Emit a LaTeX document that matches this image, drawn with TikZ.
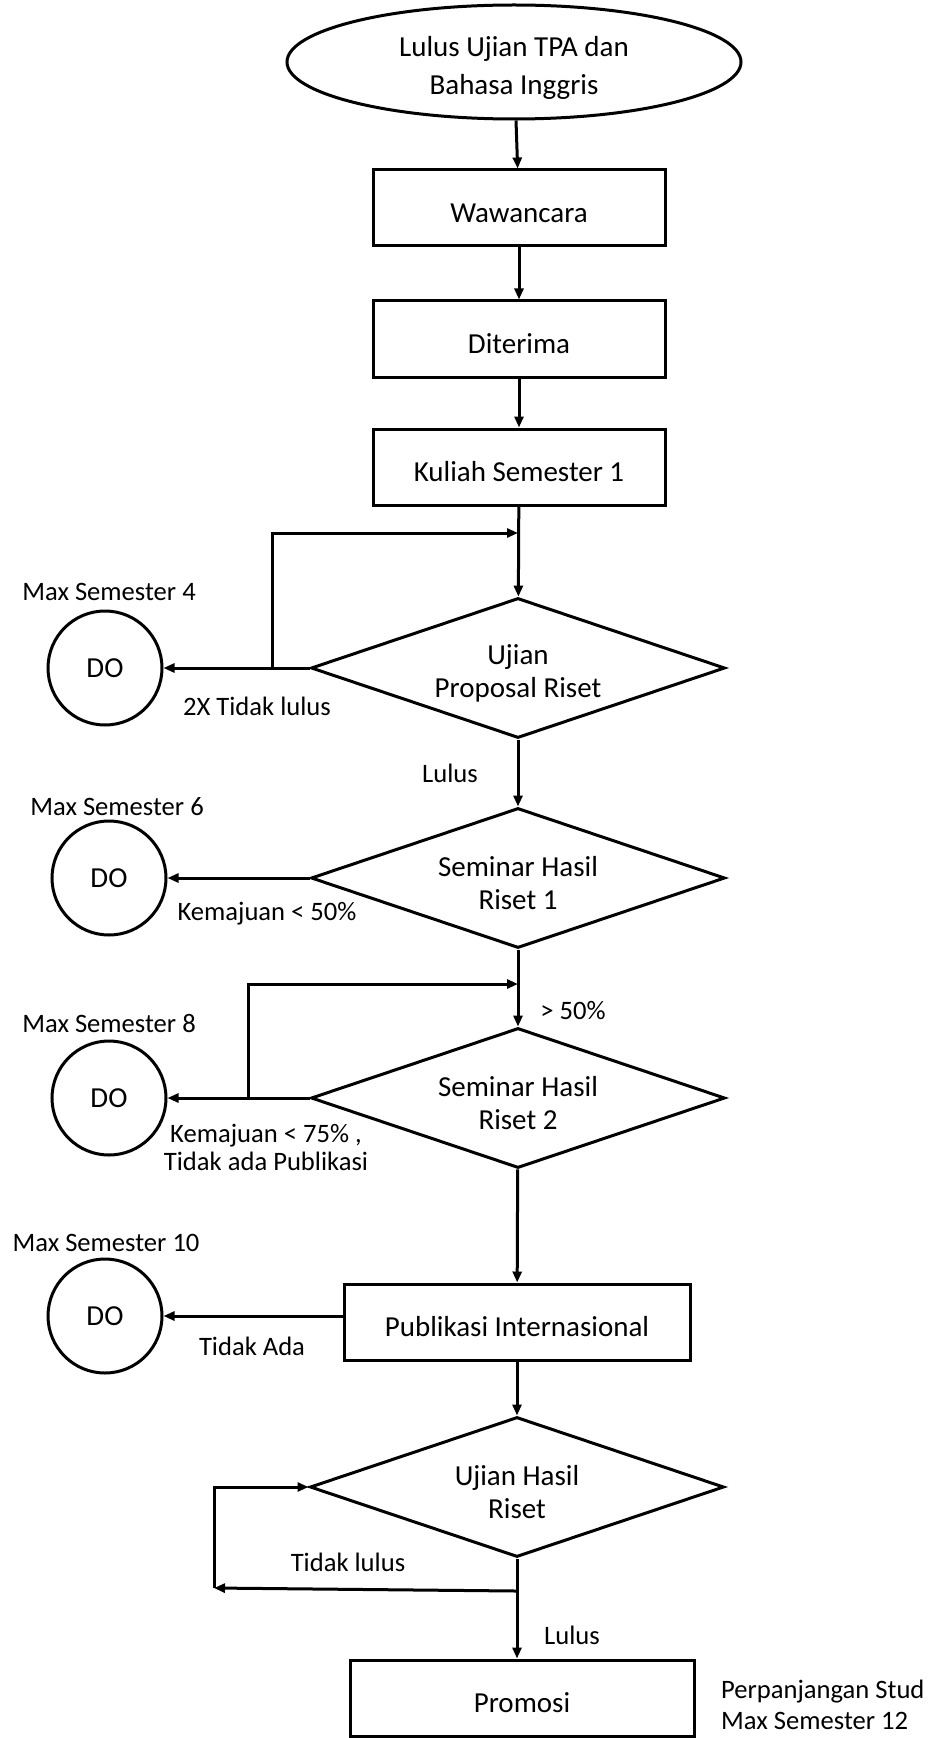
\documentclass[tikz,border=0pt]{standalone}
\usepackage{fontspec}
\setmainfont{Carlito}
\usetikzlibrary{shapes.geometric,arrows.meta}
\begin{document}
\begin{tikzpicture}[x=0.5pt,y=-0.5pt,line width=1.5pt,
    font=\fontsize{14.5}{16.5}\selectfont,
    >={Triangle[length=5.5pt,width=4.5pt]},
    box/.style={draw,rectangle,minimum width=146pt,minimum height=38pt,inner sep=0pt,
      execute at begin node=\rule{0pt}{14.5pt}},
    cond/.style={draw,diamond,aspect=3,minimum width=207pt,minimum height=70pt,inner sep=0pt,align=center,
      execute at begin node=\rule{0pt}{32pt}},
    stopnode/.style={draw,circle,minimum size=57pt,inner sep=0pt},
    lbl/.style={font=\fontsize{13.3}{14}\selectfont,align=center}]
    \useasboundingbox (0,0) rectangle (935,1738);
    \node[draw,ellipse,minimum width=227pt,minimum height=57pt,inner sep=0pt,align=center,
      font=\fontsize{14.5}{19}\selectfont,execute at begin node=\rule{0pt}{35pt}] (start) at (514,62)
      {Lulus Ujian TPA dan\\Bahasa Inggris};
    \node[box] (wawancara) at (519,208) {Wawancara};
    \node[box] (diterima) at (519,339) {Diterima};
    \node[box] (kuliah) at (519,467) {Kuliah Semester 1};
    \node[cond] (proposal) at (518,668) {Ujian\\Proposal Riset};
    \node[cond] (seminar1) at (518,878) {Seminar Hasil\\Riset 1};
    \node[cond] (seminar2) at (518,1098) {Seminar Hasil\\Riset 2};
    \node[box,minimum width=173pt] (publikasi) at (517,1322) {Publikasi Internasional};
    \node[cond] (hasil) at (517,1487) {Ujian Hasil\\Riset};
    \node[box,minimum width=172pt] (promosi) at (522,1698) {Promosi};
    \node[stopnode] (do1) at (105,668) {DO};
    \node[stopnode] (do2) at (109,878) {DO};
    \node[stopnode] (do3) at (109,1098) {DO};
    \node[stopnode] (do4) at (105,1316) {DO};
    \node[lbl] (max4) at (109,592) {Max Semester 4};
    \node[lbl] (gagal1) at (257,706) {2X Tidak lulus};
    \node[lbl] (lulus1) at (450,773) {Lulus};
    \node[lbl] (max6) at (117,807) {Max Semester 6};
    \node[lbl] (kurang1) at (267,914) {Kemajuan < 50\%};
    \node[lbl] (lebih1) at (573,1011) {> 50\%};
    \node[lbl] (max8) at (109,1024) {Max Semester 8};
    \node[lbl] (kurang2) at (266,1147) {Kemajuan < 75\% ,\\Tidak ada Publikasi};
    \node[lbl] (max10) at (106,1243) {Max Semester 10};
    \node[lbl] (tidakada) at (252,1346) {Tidak Ada};
    \node[lbl] (gagal2) at (348,1562) {Tidak lulus};
    \node[lbl] (lulus2) at (572,1635) {Lulus};
    \node[lbl,anchor=west,align=left,font=\fontsize{13.3}{15.5}\selectfont] (perpanjangan) at (713,1705)
      {Perpanjangan Stud\\Max Semester 12};
    \coordinate (loop1) at (272,668);
    \coordinate (join1) at (518,533);
    \coordinate (loop2) at (248,1098);
    \coordinate (join2) at (518,984);
    \coordinate (split4) at (516,1591);
    \coordinate (loop4) at (214,1588);
    \draw[->] (start) -- (wawancara);
    \draw[->] (wawancara) -- (diterima);
    \draw[->] (diterima) -- (kuliah);
    \draw[->] (kuliah) -- (proposal);
    \draw[->] (loop1) |- (join1);
    \draw[->] (proposal.west) -- (do1);
    \draw[->] (proposal) -- (seminar1);
    \draw[->] (seminar1.west) -- (do2);
    \draw[->] (seminar1) -- (seminar2);
    \draw[->] (loop2) |- (join2);
    \draw[->] (seminar2.west) -- (do3);
    \draw[->] (seminar2) -- (publikasi);
    \draw[->] (publikasi.west |- do4) -- (do4);
    \draw[->] (publikasi) -- (hasil);
    \draw[->] (split4) -- (loop4);
    \draw[->] (loop4) |- (hasil.west);
    \draw[->] (hasil.south) -- (hasil.south |- promosi.north);
  \end{tikzpicture}
\end{document}
